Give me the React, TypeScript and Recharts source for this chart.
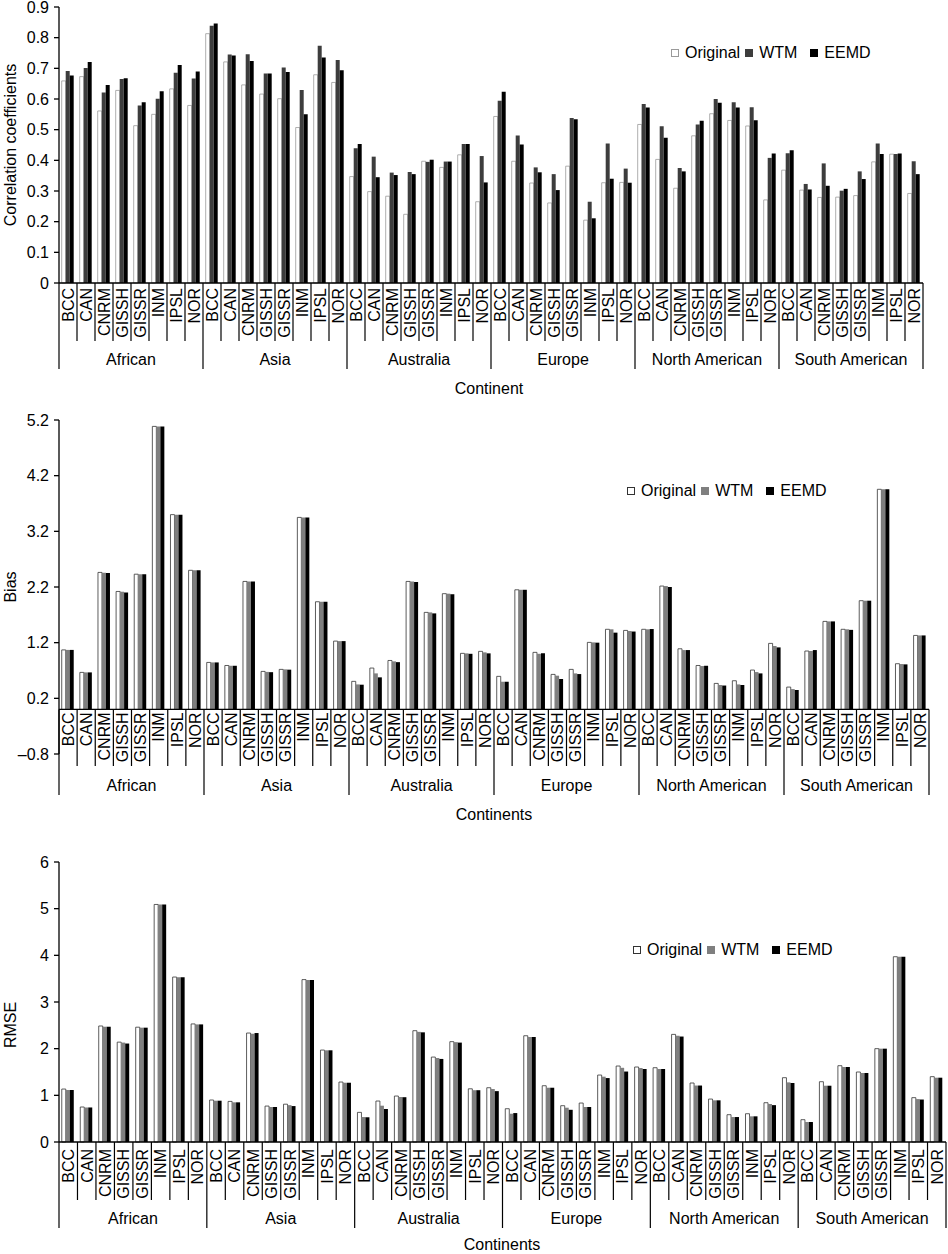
// App.tsx
// Three stacked grouped-bar panels (correlation, bias, RMSE) for eight GCMs over
// six continents, comparing the original series with WTM and EEMD corrections.

import { BarChart, Bar, XAxis, YAxis, Legend, ReferenceLine } from "recharts";

// ============================================================================
// DATA
// ============================================================================

const continents = ["African", "Asia", "Australia", "Europe", "North American", "South American"];
const models = ["BCC", "CAN", "CNRM", "GISSH", "GISSR", "INM", "IPSL", "NOR"];

const corrOriginal = [
  0.659, 0.673, 0.561, 0.628, 0.513, 0.55, 0.633, 0.579,
  0.813, 0.721, 0.646, 0.616, 0.601, 0.507, 0.679, 0.654,
  0.347, 0.298, 0.283, 0.224, 0.397, 0.377, 0.418, 0.265,
  0.543, 0.397, 0.326, 0.261, 0.381, 0.205, 0.327, 0.328,
  0.517, 0.403, 0.309, 0.48, 0.552, 0.53, 0.512, 0.271,
  0.368, 0.303, 0.279, 0.28, 0.285, 0.395, 0.42, 0.292,
];
const corrWTM = [
  0.691, 0.701, 0.621, 0.665, 0.579, 0.601, 0.686, 0.667,
  0.839, 0.745, 0.746, 0.683, 0.703, 0.629, 0.774, 0.727,
  0.439, 0.412, 0.36, 0.362, 0.395, 0.396, 0.453, 0.414,
  0.594, 0.481, 0.377, 0.355, 0.538, 0.265, 0.455, 0.373,
  0.584, 0.511, 0.375, 0.517, 0.6, 0.589, 0.573, 0.408,
  0.423, 0.323, 0.39, 0.301, 0.364, 0.455, 0.421, 0.397,
];
const corrEEMD = [
  0.677, 0.721, 0.646, 0.668, 0.589, 0.625, 0.711, 0.69,
  0.846, 0.742, 0.724, 0.683, 0.688, 0.55, 0.735, 0.694,
  0.453, 0.345, 0.352, 0.355, 0.402, 0.396, 0.453, 0.328,
  0.624, 0.452, 0.361, 0.303, 0.534, 0.211, 0.34, 0.327,
  0.572, 0.474, 0.364, 0.529, 0.588, 0.572, 0.531, 0.422,
  0.433, 0.305, 0.317, 0.307, 0.339, 0.421, 0.422, 0.355,
];

const biasOriginal = [
  1.07, 0.666, 2.462, 2.12, 2.43, 5.085, 3.5, 2.5,
  0.845, 0.79, 2.3, 0.684, 0.72, 3.45, 1.935, 1.228,
  0.505, 0.744, 0.88, 2.3, 1.744, 2.08, 1.008, 1.044,
  0.595, 2.15, 1.026, 0.63, 0.72, 1.205, 1.44, 1.42,
  1.44, 2.217, 1.09, 0.79, 0.468, 0.516, 0.708, 1.187,
  0.402, 1.05, 1.582, 1.44, 1.954, 3.955, 0.822, 1.33,
];
const biasWTM = [
  1.07, 0.666, 2.455, 2.115, 2.43, 5.085, 3.5, 2.5,
  0.845, 0.785, 2.3, 0.675, 0.72, 3.45, 1.935, 1.228,
  0.45, 0.648, 0.864, 2.3, 1.744, 2.08, 1.008, 1.026,
  0.498, 2.15, 1.0, 0.607, 0.648, 1.205, 1.44, 1.41,
  1.44, 2.217, 1.067, 0.78, 0.44, 0.45, 0.672, 1.14,
  0.366, 1.05, 1.582, 1.44, 1.954, 3.955, 0.816, 1.33,
];
const biasEEMD = [
  1.07, 0.666, 2.45, 2.1, 2.43, 5.085, 3.5, 2.5,
  0.845, 0.785, 2.3, 0.67, 0.715, 3.45, 1.935, 1.228,
  0.445, 0.577, 0.85, 2.29, 1.726, 2.07, 1.0, 1.008,
  0.498, 2.15, 1.01, 0.547, 0.636, 1.2, 1.38, 1.4,
  1.445, 2.2, 1.067, 0.785, 0.43, 0.44, 0.648, 1.115,
  0.35, 1.067, 1.582, 1.43, 1.954, 3.955, 0.81, 1.33,
];

const rmseOriginal = [
  1.135, 0.75, 2.486, 2.14, 2.46, 5.09, 3.535, 2.53,
  0.9, 0.87, 2.335, 0.77, 0.81, 3.48, 1.97, 1.285,
  0.635, 0.878, 0.985, 2.385, 1.82, 2.15, 1.14, 1.163,
  0.713, 2.277, 1.206, 0.778, 0.835, 1.435, 1.628, 1.607,
  1.592, 2.306, 1.264, 0.92, 0.585, 0.606, 0.842, 1.378,
  0.478, 1.292, 1.635, 1.5, 2.0, 3.97, 0.95, 1.4,
];
const rmseWTM = [
  1.114, 0.74, 2.47, 2.13, 2.45, 5.09, 3.53, 2.52,
  0.885, 0.85, 2.32, 0.75, 0.79, 3.47, 1.965, 1.27,
  0.535, 0.778, 0.964, 2.36, 1.8, 2.14, 1.11, 1.135,
  0.606, 2.25, 1.163, 0.735, 0.75, 1.4, 1.59, 1.586,
  1.564, 2.277, 1.21, 0.893, 0.535, 0.55, 0.814, 1.278,
  0.428, 1.206, 1.607, 1.478, 2.0, 3.97, 0.92, 1.378,
];
const rmseEEMD = [
  1.114, 0.74, 2.47, 2.11, 2.45, 5.09, 3.53, 2.52,
  0.885, 0.85, 2.335, 0.75, 0.77, 3.47, 1.965, 1.27,
  0.53, 0.707, 0.96, 2.35, 1.78, 2.13, 1.11, 1.09,
  0.62, 2.25, 1.163, 0.69, 0.75, 1.37, 1.51, 1.564,
  1.564, 2.26, 1.21, 0.893, 0.535, 0.55, 0.79, 1.264,
  0.428, 1.206, 1.607, 1.478, 2.0, 3.97, 0.91, 1.378,
];

const corrTicks = [0, 0.1, 0.2, 0.3, 0.4, 0.5, 0.6, 0.7, 0.8, 0.9];
const biasTicks = [-0.8, 0.2, 1.2, 2.2, 3.2, 4.2, 5.2];
const rmseTicks = [0, 1, 2, 3, 4, 5, 6];

// ============================================================================
// CONSTANTS
// ============================================================================

const WIDTH = 948;
const PLOT_LEFT = 59;
const X_AXIS_H = 30;
const FONT = '"Liberation Sans", Arial, Helvetica, sans-serif';
const AXIS = { stroke: "#000", strokeWidth: 1.3 };

interface Row {
  key: string;
  model: string;
  continent: string;
  original: number;
  wtm: number;
  eemd: number;
}

function buildRows(original: number[], wtm: number[], eemd: number[]): Row[] {
  return continents.flatMap((c, ci) =>
    models.map((m, mi) => {
      const i = ci * models.length + mi;
      return { key: `${c}-${m}`, model: m, continent: c, original: original[i], wtm: wtm[i], eemd: eemd[i] };
    })
  );
}

// ============================================================================
// LEGEND
// ============================================================================

function LegendRow({ wtmFill, originalStroke }: { wtmFill: string; originalStroke: string }) {
  const items = [
    { name: "Original", fill: "#fff", stroke: originalStroke, gap: 0 },
    { name: "WTM", fill: wtmFill, stroke: wtmFill, gap: 5 },
    { name: "EEMD", fill: "#000", stroke: "#000", gap: 13 },
  ];
  return (
    <div style={{ display: "flex", alignItems: "center", fontSize: 16, lineHeight: "18px", whiteSpace: "nowrap", fontFamily: FONT, color: "#000" }}>
      {items.map(it => (
        <span key={it.name} style={{ display: "flex", alignItems: "center", marginLeft: it.gap }}>
          <span style={{ width: 8, height: 8, boxSizing: "border-box", background: it.fill, border: `1px solid ${it.stroke}`, marginRight: 6 }} />
          {it.name}
        </span>
      ))}
    </div>
  );
}

// ============================================================================
// PANEL
// ============================================================================

interface PanelProps {
  rows: Row[];
  top: number;
  height: number;
  plotTop: number;
  plotBottom: number;
  plotRight: number;
  domain: [number, number];
  ticks: number[];
  fmt: (v: number) => string;
  wtmFill: string;
  originalStroke: string;
  labelGap: number;
  boxBottom: number;
  sepBottom: number;
  continentY: number;
  legendLeft: number;
  legendTop: number;
  yTitle: string;
  yTitleY: number;
  xTitle: string;
  xTitleX: number;
  xTitleY: number;
  zeroLine?: boolean;
}

function Panel(p: PanelProps) {
  const [dMin, dMax] = p.domain;
  const axisY = p.plotTop + ((p.plotBottom - p.plotTop) * dMax) / (dMax - dMin);
  const n = p.rows.length;
  const bw = (p.plotRight - PLOT_LEFT) / n;

  const renderTick = (props: any) => {
    const { x, index } = props;
    const row = p.rows[index];
    if (!row) return <g />;
    const left = x - bw / 2;
    const groupStart = index % models.length === 0;
    return (
      <g>
        <line x1={left} x2={left} y1={axisY} y2={groupStart ? p.sepBottom : p.boxBottom} stroke="#000" strokeWidth={1.2} />
        {index === n - 1 && (
          <line x1={left + bw} x2={left + bw} y1={axisY} y2={p.sepBottom} stroke="#000" strokeWidth={1.2} />
        )}
        <text
          transform={`translate(${x + 5.8},${axisY + p.labelGap}) rotate(-90)`}
          textAnchor="end"
          fontSize={16}
          fill="#000"
        >
          {row.model}
        </text>
        {groupStart && (
          <text x={left + (bw * models.length) / 2} y={p.continentY} textAnchor="middle" dominantBaseline="central" fontSize={16} fill="#000">
            {row.continent}
          </text>
        )}
      </g>
    );
  };

  return (
    <div style={{ position: "absolute", left: 0, top: p.top, width: WIDTH, height: p.height }}>
      <BarChart
        width={WIDTH}
        height={p.height}
        data={p.rows}
        margin={{ top: p.plotTop, right: WIDTH - p.plotRight, bottom: p.height - p.plotBottom - X_AXIS_H, left: 0 }}
        barCategoryGap="15%"
        barGap={0}
      >
        <XAxis dataKey="key" interval={0} tick={renderTick} tickLine={false} axisLine={p.zeroLine ? false : AXIS} height={X_AXIS_H} />
        <XAxis xAxisId="top" orientation="top" dataKey="key" tick={false} tickLine={false} axisLine={AXIS} height={0} />
        <YAxis
          domain={p.domain}
          ticks={p.ticks}
          interval={0}
          width={PLOT_LEFT}
          tickSize={5}
          tickMargin={5}
          tick={{ fill: "#000", fontSize: 16 }}
          tickFormatter={p.fmt}
          axisLine={AXIS}
          tickLine={AXIS}
        />
        <YAxis yAxisId="right" orientation="right" domain={p.domain} tick={false} tickLine={false} axisLine={AXIS} width={0} />
        {p.zeroLine && <ReferenceLine y={0} stroke="#000" strokeWidth={1.3} />}
        <Bar dataKey="original" name="Original" fill="#fff" stroke={p.originalStroke} strokeWidth={0.8} isAnimationActive={false} />
        <Bar dataKey="wtm" name="WTM" fill={p.wtmFill} isAnimationActive={false} />
        <Bar dataKey="eemd" name="EEMD" fill="#000" isAnimationActive={false} />
        <Legend
          layout="horizontal"
          verticalAlign="middle"
          align="center"
          wrapperStyle={{ left: p.legendLeft, top: p.legendTop, width: "auto" }}
          content={() => <LegendRow wtmFill={p.wtmFill} originalStroke={p.originalStroke} />}
        />
      </BarChart>
      <div
        style={{
          position: "absolute", left: 11, top: p.yTitleY, transform: "translate(-50%, -50%) rotate(-90deg)",
          fontSize: 16, whiteSpace: "nowrap", lineHeight: "18px",
        }}
      >
        {p.yTitle}
      </div>
      <div
        style={{
          position: "absolute", left: p.xTitleX, top: p.xTitleY, transform: "translate(-50%, -50%)",
          fontSize: 16, whiteSpace: "nowrap", lineHeight: "18px",
        }}
      >
        {p.xTitle}
      </div>
    </div>
  );
}

// ============================================================================
// MAIN COMPONENT
// ============================================================================

const fmtCorr = (v: number) => (v === 0 ? "0" : v.toFixed(1));
const fmtBias = (v: number) => (v < 0 ? `\u2013${Math.abs(v).toFixed(1)}` : v.toFixed(1));
const fmtRmse = (v: number) => String(v);

export default function App() {
  return (
    <div style={{ position: "absolute", left: 0, top: 0, width: WIDTH, height: 1254, background: "#fff", fontFamily: FONT, color: "#000" }}>
      <Panel
        rows={buildRows(corrOriginal, corrWTM, corrEEMD)}
        top={0}
        height={400}
        plotTop={7}
        plotBottom={283}
        plotRight={923}
        domain={[0, 0.9]}
        ticks={corrTicks}
        fmt={fmtCorr}
        wtmFill="#3d3d3d"
        originalStroke="#9a9a9a"
        labelGap={5}
        boxBottom={341}
        sepBottom={369}
        continentY={359}
        legendLeft={671}
        legendTop={44}
        yTitle="Correlation coefficients"
        yTitleY={145}
        xTitle="Continent"
        xTitleX={489}
        xTitleY={389}
      />
      <Panel
        rows={buildRows(biasOriginal, biasWTM, biasEEMD)}
        top={400}
        height={430}
        plotTop={20}
        plotBottom={354}
        plotRight={929}
        domain={[-0.8, 5.2]}
        ticks={biasTicks}
        fmt={fmtBias}
        wtmFill="#7f7f7f"
        originalStroke="#333"
        labelGap={3}
        boxBottom={366}
        sepBottom={395}
        continentY={385}
        legendLeft={627}
        legendTop={82}
        yTitle="Bias"
        yTitleY={187}
        xTitle="Continents"
        xTitleX={494}
        xTitleY={415}
        zeroLine
      />
      <Panel
        rows={buildRows(rmseOriginal, rmseWTM, rmseEEMD)}
        top={830}
        height={424}
        plotTop={32}
        plotBottom={312}
        plotRight={946}
        domain={[0, 6]}
        ticks={rmseTicks}
        fmt={fmtRmse}
        wtmFill="#7f7f7f"
        originalStroke="#333"
        labelGap={7}
        boxBottom={370}
        sepBottom={398}
        continentY={388}
        legendLeft={633}
        legendTop={111}
        yTitle="RMSE"
        yTitleY={195}
        xTitle="Continents"
        xTitleX={502}
        xTitleY={415}
      />
    </div>
  );
}
